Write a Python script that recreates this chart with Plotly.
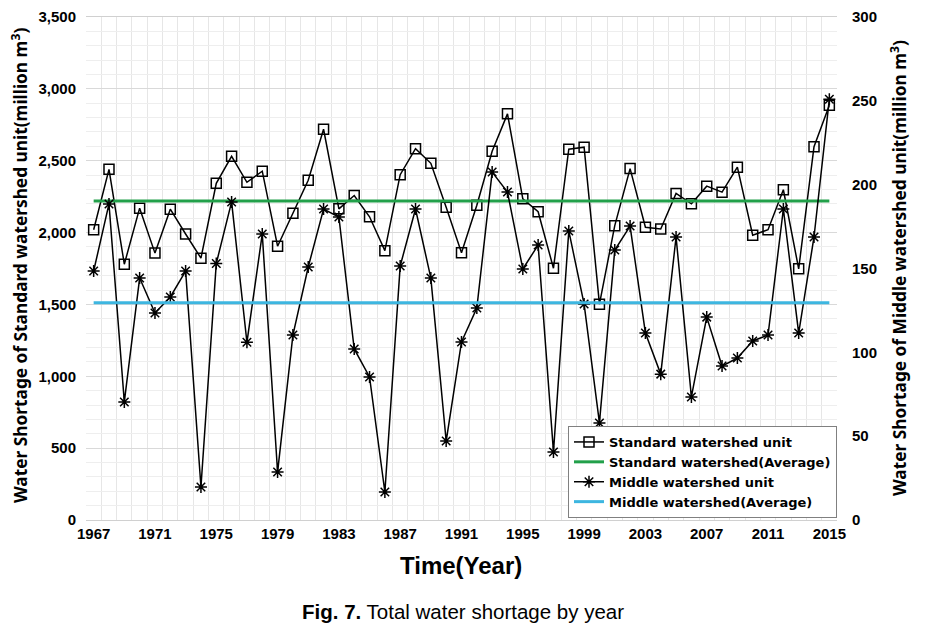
import plotly.graph_objects as go

years = list(range(1967, 2016))
standard = [2020, 2440, 1780, 2170, 1857, 2163, 1990, 1822, 2343, 2531,
            2350, 2427, 1905, 2135, 2364, 2719, 2165, 2258, 2110, 1874,
            2403, 2584, 2482, 2177, 1860, 2190, 2566, 2826, 2235, 2145,
            1752, 2580, 2594, 1502, 2048, 2445, 2037, 2025, 2272, 2200,
            2323, 2281, 2455, 1982, 2020, 2298, 1748, 2597, 2886]
middle = [148.5, 188.5, 70.4, 144.3, 123.5, 133.0, 148.5, 19.7, 153.0, 189.7,
          106.0, 170.6, 28.6, 110.3, 150.9, 185.5, 180.7, 102.0, 85.3, 16.7,
          151.5, 185.5, 144.3, 47.1, 106.2, 126.4, 207.5, 195.6, 149.7, 164.0,
          40.6, 172.4, 128.8, 57.9, 161.0, 175.3, 111.5, 87.0, 168.8, 73.4,
          121.0, 91.8, 96.6, 106.8, 110.3, 185.5, 111.5, 168.8, 251.0]
standard_avg = 2220
middle_avg = 129.5
xtick_years = list(range(1967, 2016, 4))

FONT = "Liberation Sans"
TITLE_FONT = "Noto Sans"
LEGEND_FONT = "DejaVu Sans"
fig = go.Figure()

fig.add_trace(go.Scatter(
    x=years, y=standard, mode="lines+markers", name="Standard watershed unit",
    line=dict(color="black", width=1.5),
    marker=dict(symbol="square-open", size=10, color="black", line=dict(width=1.5)),
    yaxis="y"))
fig.add_trace(go.Scatter(
    x=[years[0], years[-1]], y=[standard_avg, standard_avg], mode="lines",
    name="Standard watershed(Average)", line=dict(color="#22a04a", width=3), yaxis="y"))
fig.add_trace(go.Scatter(
    x=years, y=middle, mode="lines+markers", name="Middle watershed unit",
    line=dict(color="black", width=1.5),
    marker=dict(symbol="asterisk-open", size=10, color="black", line=dict(width=1.5, color="black")),
    yaxis="y2"))
fig.add_trace(go.Scatter(
    x=[years[0], years[-1]], y=[middle_avg, middle_avg], mode="lines",
    name="Middle watershed(Average)", line=dict(color="#3db6e0", width=3), yaxis="y2"))

tickfont = dict(family=FONT, size=15, color="black", weight="bold")

fig.update_layout(
    width=925, height=630,
    margin=dict(l=86, r=88, t=17, b=110, autoexpand=False),
    paper_bgcolor="white", plot_bgcolor="white",
    showlegend=True,
    legend=dict(x=1.0, xanchor="right", y=0.004, yanchor="bottom",
                bgcolor="white", bordercolor="#808080", borderwidth=1,
                font=dict(family=LEGEND_FONT, size=13, color="black", weight="bold"),
                itemwidth=30, tracegroupgap=0),
    xaxis=dict(range=[1966.5, 2015.5], tickmode="array", tickvals=xtick_years,
               ticktext=[str(v) for v in xtick_years], tickfont=tickfont,
               showgrid=False, zeroline=False, ticks="",
               showline=True, linecolor="#d0d0d0", mirror=True,
               minor=dict(tickmode="linear", tick0=1966.5, dtick=1, showgrid=True,
                          gridcolor="#e6e6e6", gridwidth=1, ticks="")),
    yaxis=dict(range=[0, 3500], dtick=500, tickformat=",", tickfont=tickfont,
               showgrid=True, gridcolor="#d9d9d9", zeroline=False, ticks="",
               ticklabelstandoff=9,
               minor=dict(dtick=100, showgrid=True, gridcolor="#eeeeee", ticks="")),
    yaxis2=dict(range=[0, 300], dtick=50, tickfont=tickfont, overlaying="y",
                side="right", showgrid=False, zeroline=False, ticks="",
                ticklabelstandoff=14),
    annotations=[
        dict(text="Water Shortage of Standard watershed unit(million m<sup>3</sup>)",
             x=19, y=266, showarrow=False, textangle=-90,
             font=dict(family=TITLE_FONT, size=17.3, color="black", weight="bold")),
        dict(text="Water Shortage of Middle watershed unit(million m<sup>3</sup>)",
             x=898, y=268, showarrow=False, textangle=-90,
             font=dict(family=TITLE_FONT, size=17.3, color="black", weight="bold")),
        dict(text="Time(Year)", x=461, y=565, showarrow=False,
             font=dict(family=FONT, size=24, color="black", weight="bold")),
        dict(text="<b>Fig. 7.</b> Total water shortage by year", x=463, y=611,
             showarrow=False,
             font=dict(family=FONT, size=20.5, color="black")),
    ],
)

# convert annotation pixel positions to paper coordinates
W, H = 925, 630
l, r, t, b = 86, 88, 17, 110
pw, ph = W - l - r, H - t - b
for ann in fig.layout.annotations:
    px, py = ann.x, ann.y
    ann.xref = "paper"
    ann.yref = "paper"
    ann.x = (px - l) / pw
    ann.y = (H - b - py) / ph
    ann.xanchor = "center"
    ann.yanchor = "middle"

fig.write_html("out.html", config={"displayModeBar": False},
               post_script="document.body.style.margin='0';")
